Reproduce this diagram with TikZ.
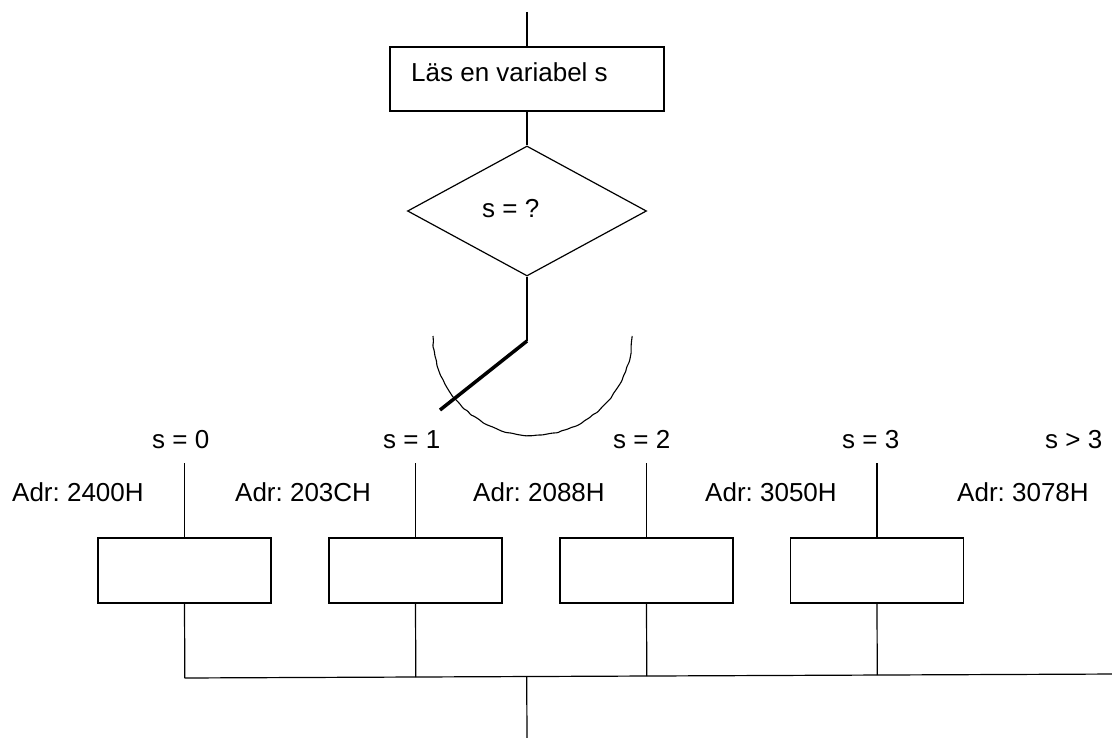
\documentclass[tikz,border=0pt]{standalone}
\usepackage{fontspec}
\setmainfont{Liberation Sans}
\frenchspacing
\usetikzlibrary{shapes.geometric,calc,decorations.pathmorphing}

\tikzset{
  flow/.style={line width=1.2pt, black},
  procbox/.style={draw, line width=1.2pt, rectangle, inner sep=0pt,
    minimum width=173pt, minimum height=65pt},
  readbox/.style={draw, line width=1.2pt, rectangle, inner sep=0pt,
    minimum width=274pt, minimum height=64pt},
  decision/.style={draw, line width=1.2pt, diamond, inner sep=0pt,
    minimum width=239pt, minimum height=130pt},
  lbl/.style={anchor=base west, inner sep=0pt,
    font=\fontsize{26}{31}\selectfont},
  switcharm/.style={line width=3.5pt, line cap=butt},
  switcharc/.style={line width=1.1pt, decorate,
    decoration={random steps, segment length=5pt, amplitude=0.6pt},
    rounded corners=1pt}
}

\begin{document}
\begin{tikzpicture}[x=1pt, y=-1pt]
\useasboundingbox (0,0) rectangle (1112,738);

% read step and decision
\coordinate (entry) at (527,12);
\node[readbox] (read) at (527,79) {};
\node[lbl] (readtxt) at (411,82) {Läs en variabel s};
\node[decision] (dec) at (527,211) {};
\node[lbl] (dectxt) at (482,218) {s = ?};

\draw[flow] (entry) -- (read.north);
\draw[flow] (read.south) -- (dec.north);

% selector switch
\coordinate (pivot) at (527,341);
\coordinate (armtip) at (440,410);
\coordinate (arcstart) at (433,336);
\draw[flow] (dec.south) -- (pivot);
\draw[switcharm] (pivot) -- (armtip);
\draw[switcharc] (arcstart) arc[start angle=180, end angle=0, radius=99.5];

% case labels
\node[lbl] (c0) at (152,448) {s = 0};
\node[lbl] (c1) at (383,448) {s = 1};
\node[lbl] (c2) at (613,448) {s = 2};
\node[lbl] (c3) at (842,448) {s = 3};
\node[lbl] (c4) at (1045,448) {s > 3};

\node[lbl] (a0) at (12,501) {Adr: 2400H};
\node[lbl] (a1) at (235,501) {Adr: 203CH};
\node[lbl] (a2) at (473,501) {Adr: 2088H};
\node[lbl] (a3) at (705,501) {Adr: 3050H};
\node[lbl] (a4) at (957,501) {Adr: 3078H};

% case blocks
\node[procbox] (b0) at (184.5,570.5) {};
\node[procbox] (b1) at (415.5,570.5) {};
\node[procbox] (b2) at (646.5,570.5) {};
\node[procbox] (b3) at (877,570.5) {};

\coordinate (t0) at (184.5,463);
\coordinate (t1) at (415.5,463);
\coordinate (t2) at (646.5,463);
\coordinate (t3) at (877,463);
\foreach \i in {0,...,3}
  \draw[flow] (t\i) -- (b\i.north);

% collecting line
\coordinate (busL) at (184.5,678);
\coordinate (busR) at (1120,674);
\coordinate (exit) at (527,738);
\draw[flow] (busL) -- (busR);
\foreach \i in {0,...,3}
  \draw[flow] (b\i.south) -- ($(busL)!(b\i.south)!(busR)$);
\draw[flow] ($(busL)!(exit)!(busR)$) -- (exit);
\end{tikzpicture}
\end{document}
